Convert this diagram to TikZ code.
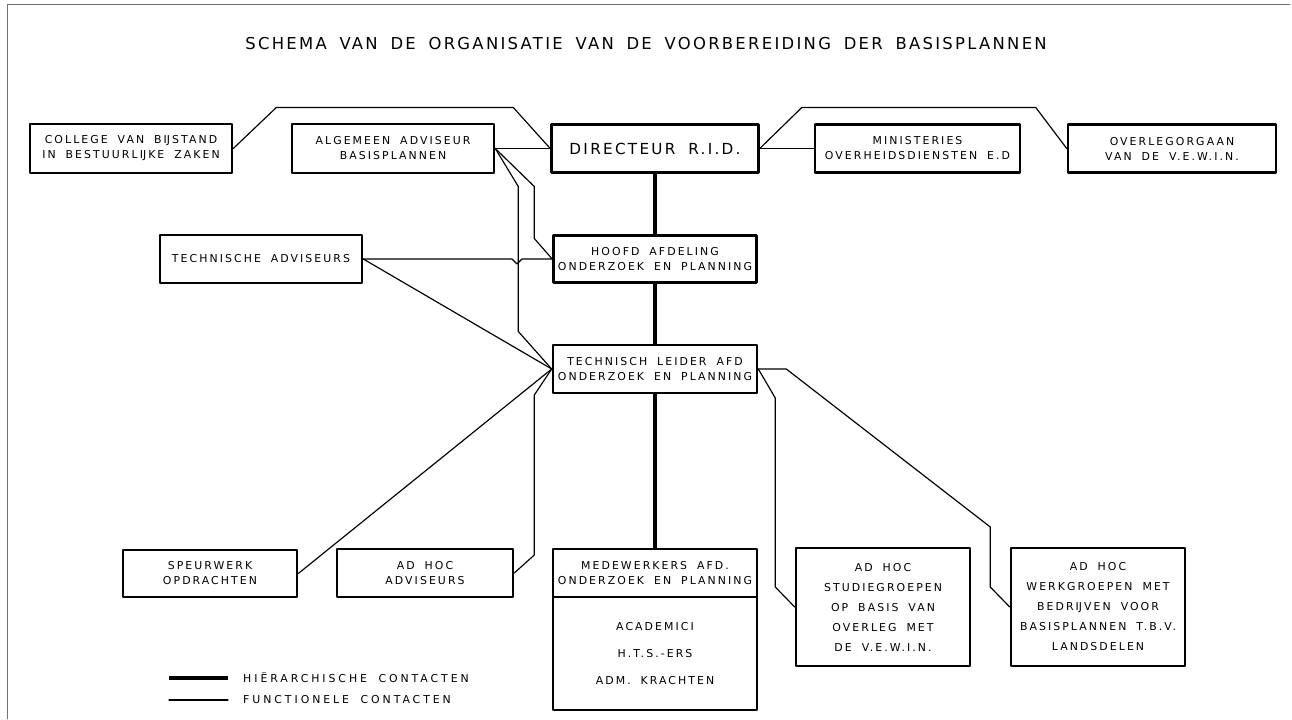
\documentclass[tikz,border=0pt]{standalone}
\usepackage{fontspec}
\setmainfont{DejaVu Sans}
\newfontfamily\stencil[LetterSpace=19,WordSpace=1.8]{DejaVu Sans}
\newfontfamily\legendstencil[LetterSpace=27,WordSpace=1.8]{DejaVu Sans}
\newfontfamily\headstencil[LetterSpace=15,WordSpace=1.8]{DejaVu Sans}
\newfontfamily\titlestencil[LetterSpace=14,WordSpace=1.7]{DejaVu Sans}
\begin{document}
\begin{tikzpicture}[x=0.3mm,y=-0.3mm,line join=round,line cap=round,
	box/.style 2 args={draw,line width=2.2pt,inner sep=0pt,minimum width=#1*0.3mm,minimum height=#2*0.3mm,align=center,font=\stencil\fontsize{9.3}{12.8}\selectfont},
	func/.style={line width=1pt},
	hier/.style={line width=4.2pt,line cap=butt},
	lbl/.style={anchor=west,inner sep=0pt,font=\legendstencil\fontsize{9.3}{10}\selectfont},
	frame/.style={line width=0.6pt,black!55}]
	\useasboundingbox (0,0) rectangle (1292,719);
	\draw[frame] (1290,4)--(7,4)--(7,719);
	\node[font=\titlestencil\fontsize{14}{16}\selectfont] (title) at (646,44) {SCHEMA VAN DE ORGANISATIE VAN DE VOORBEREIDING DER BASISPLANNEN};
	\node[box={202}{49}] (college) at (131,148.5) {COLLEGE VAN BĲSTAND\\IN BESTUURLĲKE ZAKEN};
	\node[box={202}{49}] (algemeen) at (393,148.5) {ALGEMEEN ADVISEUR\\BASISPLANNEN};
	\node[box={207}{48},font=\headstencil\fontsize{13}{15}\selectfont] (directeur) at (655,148.5) {DIRECTEUR R.I.D.};
	\node[box={205}{48}] (ministeries) at (917.5,148.5) {MINISTERIES\\OVERHEIDSDIENSTEN E.D};
	\node[box={208}{48}] (overleg) at (1172,148.5) {OVERLEGORGAAN\\VAN DE V.E.W.I.N.};
	\node[box={202}{48}] (technische) at (261,259) {TECHNISCHE ADVISEURS};
	\node[box={203}{47}] (hoofd) at (655,259) {HOOFD AFDELING\\ONDERZOEK EN PLANNING};
	\node[box={204}{48}] (leider) at (655,369) {TECHNISCH LEIDER AFD\\ONDERZOEK EN PLANNING};
	\node[box={174}{47}] (speurwerk) at (210,573.5) {SPEURWERK\\OPDRACHTEN};
	\node[box={176}{48}] (adhocadv) at (425,573) {AD HOC\\ADVISEURS};
	\node[box={204}{48}] (medew) at (655,573) {MEDEWERKERS AFD.\\ONDERZOEK EN PLANNING};
	\node[box={204}{113}] (staff) at (655,653.5) {ACADEMICI\\[3.6mm]H.T.S.-ERS\\[3.6mm]ADM. KRACHTEN};
	\node[box={174}{118}] (studie) at (883,607) {AD HOC\\[1.5mm]STUDIEGROEPEN\\[1.5mm]OP BASIS VAN\\[1.5mm]OVERLEG MET\\[1.5mm]DE V.E.W.I.N.};
	\node[box={174}{118}] (werk) at (1098,607) {AD HOC\\[1.5mm]WERKGROEPEN MET\\[1.5mm]BEDRĲVEN VOOR\\[1.5mm]BASISPLANNEN T.B.V.\\[1.5mm]LANDSDELEN};
	\draw[hier] (directeur.south)--(hoofd.north);
	\draw[hier] (hoofd.south)--(leider.north);
	\draw[hier] (leider.south)--(medew.north);
	\draw[func] (college.east)--++(43,-41)--++(237,0)--(directeur.west);
	\draw[func] (algemeen.east)--(directeur.west);
	\draw[func] (algemeen.east)--++(23,38)--++(0,145)--(leider.west);
	\draw[func] (algemeen.east)--++(39,38)--++(0,52)--(hoofd.west);
	\draw[func] (technische.east)--(512,259)--(517,264)--(522,259)--(hoofd.west);
	\draw[func] (technische.east)--(leider.west);
	\draw[func] (speurwerk.east)--(leider.west);
	\draw[func] (adhocadv.east)--++(20,-18)--++(0,-160)--(leider.west);
	\draw[func] (directeur.east)--(ministeries.west);
	\draw[func] (directeur.east)--++(42,-41)--++(234,0)--(overleg.west);
	\draw[func] (leider.east)--++(17,29)--++(0,189)--(studie.west);
	\draw[func] (leider.east)--++(28,0)--++(204,158)--++(0,60)--(werk.west);
	\node[lbl] (hierlbl) at (243,678) {HIËRARCHISCHE CONTACTEN};
	\node[lbl] (funclbl) at (243,700) {FUNCTIONELE CONTACTEN};
	\coordinate (hierstart) at (169,678);
	\coordinate (funcstart) at (169,700);
	\draw[hier] (hierstart)--++(59,0);
	\draw[func] (funcstart)--++(59,0);
\end{tikzpicture}
\end{document}
